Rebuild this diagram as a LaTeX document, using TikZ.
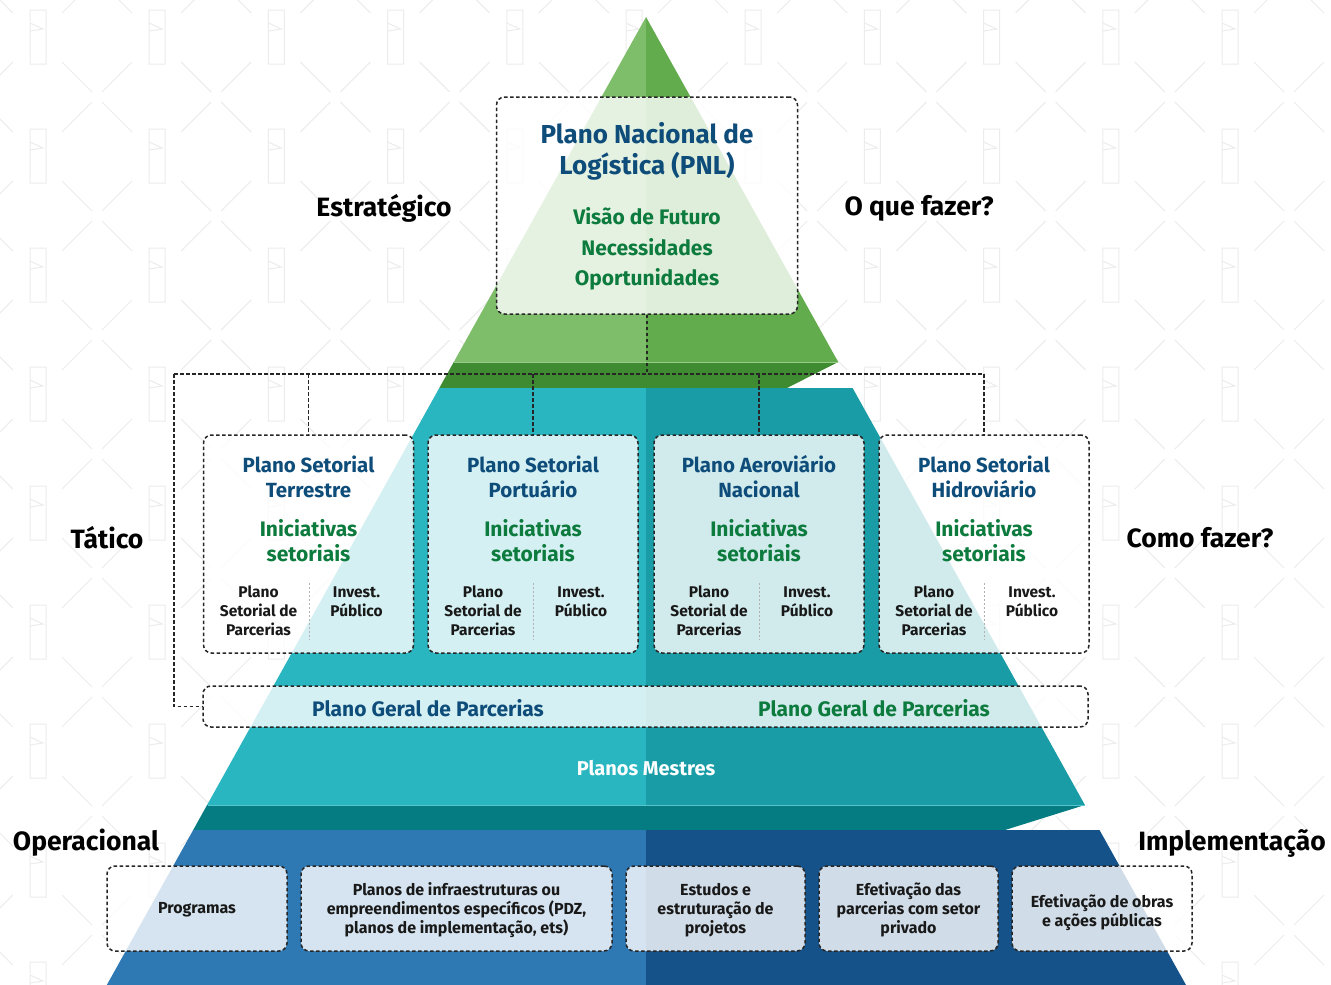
\documentclass[tikz,border=0pt]{standalone}
\usepackage{fontspec}
\setmainfont{Fira Sans}
\usetikzlibrary{positioning}

\definecolor{grnA}{HTML}{7EBE6B}
\definecolor{grnB}{HTML}{62AC4D}
\definecolor{grnC}{HTML}{3F8B32}
\definecolor{tealA}{HTML}{29B6C0}
\definecolor{tealB}{HTML}{1A9CA7}
\definecolor{tealC}{HTML}{057C81}
\definecolor{bluA}{HTML}{2E78B4}
\definecolor{bluB}{HTML}{155289}
\definecolor{titleblue}{HTML}{0E4C7A}
\definecolor{textgreen}{HTML}{0D7B3D}
\definecolor{wmark}{HTML}{ECECEC}

\tikzset{
  dashbox/.style={draw=black!85, line width=1.5pt, dash pattern=on 3.5pt off 2.5pt,
    rounded corners=8pt, fill=white, fill opacity=0.8, text opacity=1, inner sep=0pt},
  bus/.style={draw=black!85, line width=1.4pt, dash pattern=on 3.5pt off 2.5pt},
  sepline/.style={draw=black!30, line width=0.8pt, dash pattern=on 2pt off 2pt},
  wm/.style={draw=wmark, line width=1pt},
  sidelabel/.style={font=\bfseries\fontsize{26.5}{30}\selectfont, text=black},
  pnltitle/.style={font=\bfseries\fontsize{26}{31}\selectfont, text=titleblue, align=center},
  pnlitems/.style={font=\bfseries\fontsize{21}{30.5}\selectfont, text=textgreen, align=center},
  boxtitle/.style={font=\bfseries\fontsize{20.5}{25}\selectfont, text=titleblue, align=center},
  initext/.style={font=\bfseries\fontsize{21}{25}\selectfont, text=textgreen, align=center},
  smalltext/.style={font=\bfseries\fontsize{15.5}{19}\selectfont, text=black!90, align=center},
  optext/.style={font=\bfseries\fontsize{16}{19}\selectfont, text=black!90, align=center},
  geraltext/.style={font=\bfseries\fontsize{21}{25}\selectfont}
}

\begin{document}
\begin{tikzpicture}[x=1pt, y=-1pt]
  \useasboundingbox (0,0) rectangle (1331,985);
  \fill[white] (0,0) rectangle (1331,985);

  % Watermark
  \foreach \i in {-1,...,11}{
    \foreach \j in {-1,...,8}{
      \coordinate (wx) at (97+119.2*\i, 97+119*\j);
      \draw[wm] (wx) +(-35,-35) -- +(-5,-5) +(5,5) -- +(35,35)
                     +(35,-35) -- +(5,-5) +(-5,5) -- +(-35,35);
      \draw[wm] (wx) +(-67,-87) rectangle +(-51,-33)
                     +(-67,-74) -- +(-54,-68) -- +(-67,-66);
    }
  }

  % Pyramid: green level
  \fill[grnA] (646,17) -- (453.8,362) -- (646,362) -- cycle;
  \fill[grnB] (646,17) -- (838.2,362) -- (646,362) -- cycle;
  \fill[grnC] (453.8,362) -- (838.2,362) -- (787,388) -- (439.3,388) -- cycle;
  \draw[grnA!80, line width=1pt] (454.3,362.5) -- (837.8,362.5);

  % Pyramid: teal level
  \fill[tealA] (439.3,388) -- (646,388) -- (646,805) -- (207.1,805) -- cycle;
  \fill[tealB] (646,388) -- (852.6,388) -- (1084.9,805) -- (646,805) -- cycle;
  \fill[tealC] (207.1,805) -- (1084.9,805) -- (1005,830) -- (193.2,830) -- cycle;
  \draw[tealA!80, line width=1pt] (207.6,805.5) -- (1084.5,805.5);

  % Pyramid: blue level
  \fill[bluA] (193.2,830) -- (646,830) -- (646,985) -- (106.8,985) -- cycle;
  \fill[bluB] (646,830) -- (1099.5,830) -- (1186,985) -- (646,985) -- cycle;

  % Strategic level
  \node[dashbox, minimum width=301pt, minimum height=217pt] (pnl) at (647,205.5) {};
  \node[pnltitle] (pnl-t) at (647,151) {Plano Nacional de\\Logística (PNL)};
  \node[pnlitems] (pnl-i) at (647,249) {Visão de Futuro\\Necessidades\\Oportunidades};

  % Tactical level
  \foreach \cx/\nm/\ta/\tb in {308.5/terr/Plano Setorial/Terrestre,
      533/port/Plano Setorial/Portuário,
      759/aero/Plano Aeroviário/Nacional,
      984/hidro/Plano Setorial/Hidroviário}{
    \node[dashbox, minimum width=210pt, minimum height=218pt] (\nm) at (\cx,544) {};
    \node[boxtitle] (\nm-t) at (\cx,477) {\ta\\\tb};
    \node[initext] (\nm-i) at (\cx,541) {Iniciativas\\setoriais};
    \node[smalltext] (\nm-p) at (\cx-50,611) {Plano\\Setorial de\\Parcerias};
    \node[smalltext] (\nm-v) at (\cx+48,602) {Invest.\\Público};
    \draw[sepline] (\cx+0.5,583) -- (\cx+0.5,640);
  }

  \node[dashbox, minimum width=885pt, minimum height=41pt] (geral) at (645.5,706.5) {};
  \node[geraltext, text=titleblue] (geral-a) at (428,708) {Plano Geral de Parcerias};
  \node[geraltext, text=textgreen] (geral-b) at (874,708) {Plano Geral de Parcerias};

  \node[geraltext, font=\bfseries\fontsize{20}{24}\selectfont, text=white] (mestres) at (646,768) {Planos Mestres};

  % Connectors
  \coordinate (busL) at (174,374);
  \coordinate (busR) at (984,374);
  \draw[bus] (pnl.south) -- (pnl.south |- busL);
  \draw[bus] (busL) -- (busR);
  \foreach \nm in {terr,port,aero,hidro}
    \draw[bus] (\nm.north |- busL) -- (\nm.north);
  \draw[bus] (busL) |- (geral.west);

  % Operational level
  \foreach \cx/\w/\ty/\nm/\txt in {197/180/910/prog/Programas,
      456.5/311/910/infra/{Planos de infraestruturas ou\\empreendimentos específicos (PDZ,\\planos de implementação, ets)},
      715.5/179/910/estud/{Estudos e\\estruturação de\\projetos},
      908.5/179/910/efpar/{Efetivação das\\parcerias com setor\\privado},
      1102/180/913/efobr/{Efetivação de obras\\e ações públicas}}{
    \node[dashbox, minimum width=\w pt, minimum height=85pt] (\nm) at (\cx,908.5) {};
    \node[optext] (\nm-t) at (\cx,\ty) {\txt};
  }

  % Side labels
  \node[sidelabel] (estr) at (384,208) {Estratégico};
  \node[sidelabel] (oque) at (919,208) {O que fazer?};
  \node[sidelabel] (tat) at (107,538) {Tático};
  \node[sidelabel] (como) at (1200,538) {Como fazer?};
  \node[sidelabel] (oper) at (86,843) {Operacional};
  \node[sidelabel] (impl) at (1232,843) {Implementação};
\end{tikzpicture}
\end{document}
